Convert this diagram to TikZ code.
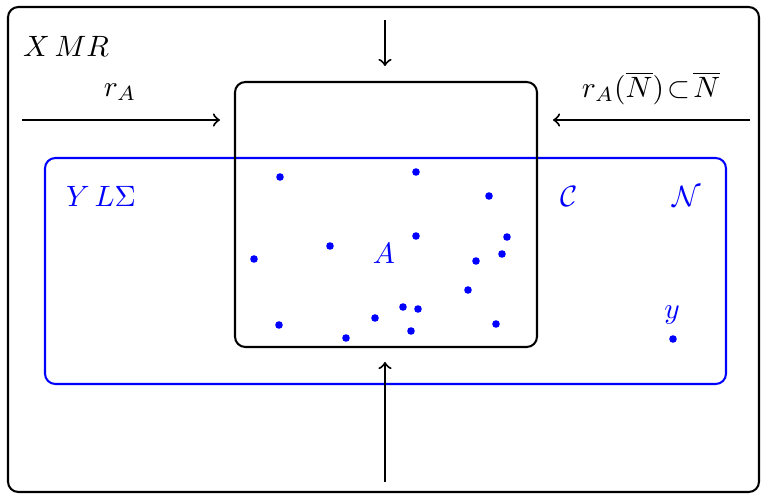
\documentclass[tikz,border=0pt]{standalone}
\usepackage{amsmath,amssymb}
\usepackage{tikz}
\usetikzlibrary{arrows,positioning,calc}
\usepackage{xcolor}

\tikzset{
  frame/.style={draw=black,line width=0.7pt,rounded corners=3.5pt},
  blueframe/.style={draw=blue,line width=0.7pt,rounded corners=3.5pt},
  flow/.style={->,line width=0.7pt},
  bluelabel/.style={text=blue,inner sep=1pt},
}

\begin{document}
\begin{tikzpicture}[x=0.34pt,y=-0.34pt]
  \useasboundingbox (0,0) rectangle (762,495);
  % outer frame
  \draw[frame] (8,7) rectangle (759,492);
  \node[inner sep=1pt] (xmr) at (66,46) {$X\,MR$};

  % blue region
  \draw[blueframe] (45,158) rectangle (726,384);
  \node[bluelabel] (yls) at (101,196) {$Y\,L\Sigma$};
  \node[bluelabel] (cc) at (569,196) {$\mathcal{C}$};
  \node[bluelabel] (nn) at (687,196) {$\mathcal{N}$};
  \node[bluelabel] (yy) at (672,315) {$y$};
  \fill[blue] (673,339) circle (3.8);

  % inner box
  \draw[frame] (235,82) rectangle (537,347);
  \node[bluelabel] (aa) at (384,253) {$A$};
  \foreach \px/\py in {280/177,416/172,489/196,416/236,507/237,330/246,
                       254/259,502/254,476/261,468/290,403/307,418/309,
                       375/318,279/325,496/324,411/331,346/338} {
    \fill[blue] (\px,\py) circle (3.8);
  }

  % arrows
  \coordinate (lft) at (22,120);
  \coordinate (lfte) at (220,120);
  \coordinate (rgt) at (750,120);
  \coordinate (rgte) at (553,120);
  \coordinate (top) at (385,20);
  \coordinate (tope) at (385,66);
  \coordinate (bot) at (385,482);
  \coordinate (bote) at (385,362);
  \draw[flow] (lft) -- (lfte);
  \draw[flow] (rgt) -- (rgte);
  \draw[flow] (top) -- (tope);
  \draw[flow] (bot) -- (bote);
  \node[inner sep=1pt] (ra) at (120,92) {$r_A$};
  \node[inner sep=1pt] (ran) at (651,88) {$r_A(\overline{N})\!\subset\!\overline{N}$};
\end{tikzpicture}
\end{document}
